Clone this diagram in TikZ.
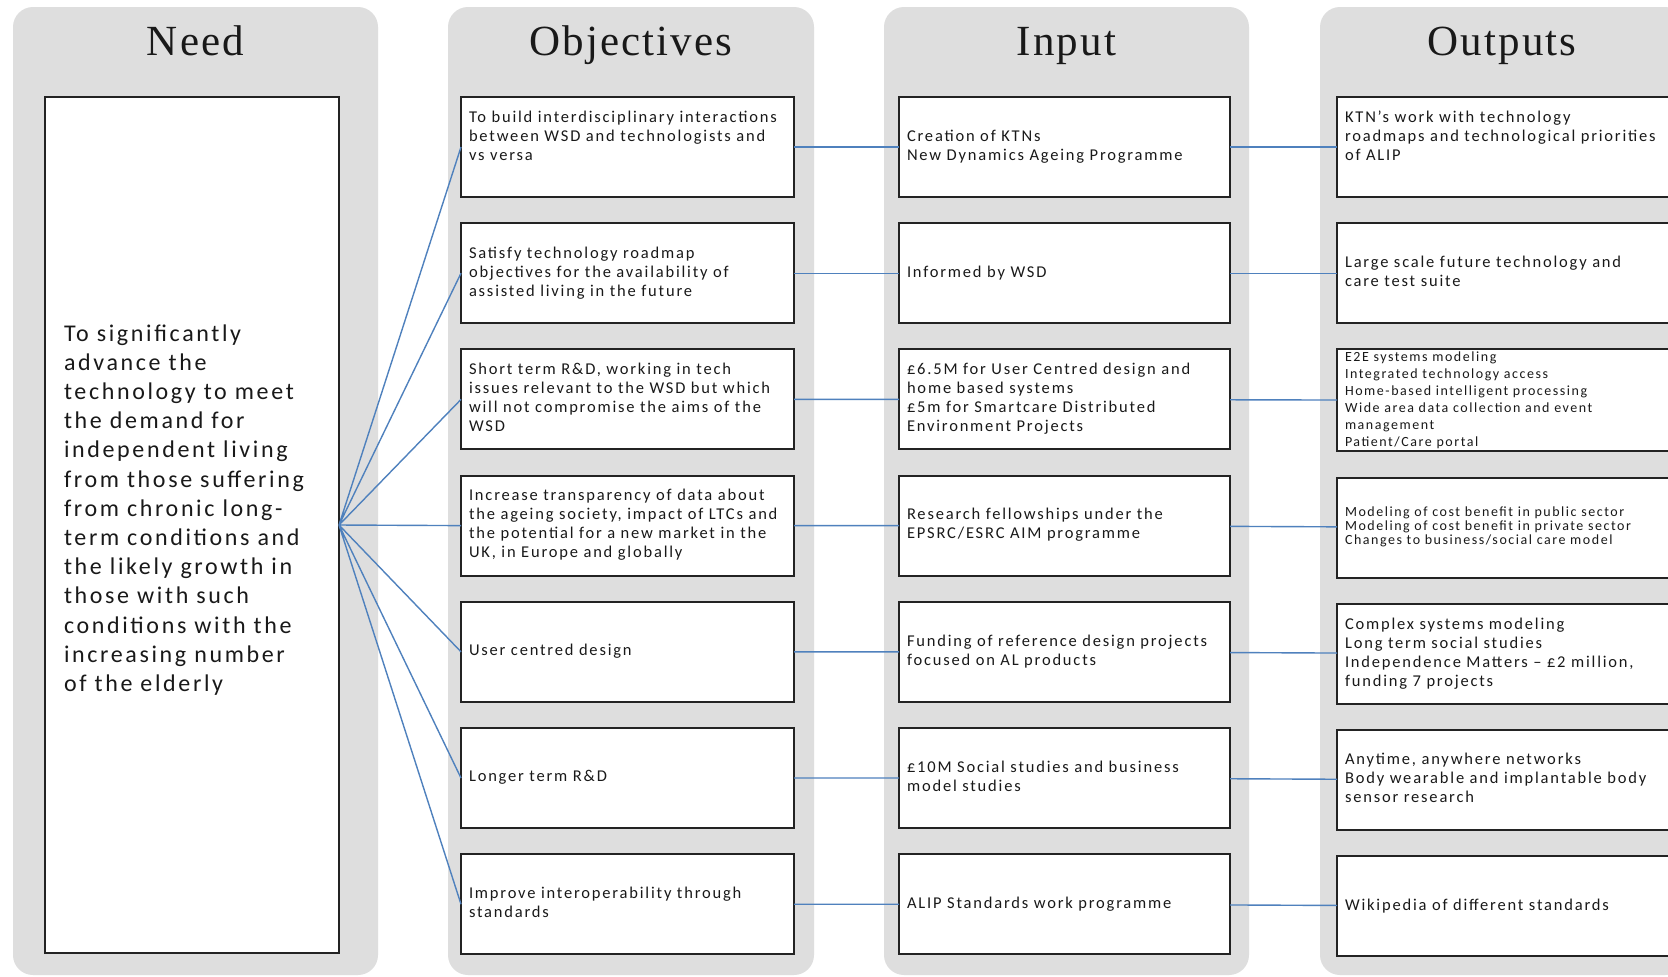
\documentclass[tikz,border=0pt]{standalone}
\usepackage{fontspec}
\usetikzlibrary{positioning}
\newfontfamily\headfont[LetterSpace=5]{Liberation Serif}
\newfontfamily\cardfont[LetterSpace=11]{Carlito}
\definecolor{panelgray}{RGB}{222,222,222}
\definecolor{linkblue}{RGB}{79,129,189}
\definecolor{boxline}{RGB}{35,35,35}
\newcommand{\boxlines}[1]{\begin{tabular}{@{}l@{}}#1\end{tabular}}
\tikzset{
  panel/.style={fill=panelgray, rounded corners=10pt},
  coltitle/.style={anchor=base, inner sep=0pt, text=black!90, font=\headfont\fontsize{21.5}{24}\selectfont},
  card/.style={draw=boxline, line width=1pt, fill=white, minimum height=50pt, inner xsep=4pt, inner ysep=0pt,
    outer sep=0pt, align=left, text=black!90, font=\cardfont\fontsize{8.25}{9.5}\selectfont},
  obbox/.style={card, text width=158.5pt},
  inbox/.style={card, text width=157.5pt},
  outbox/.style={card, text width=162pt},
  link/.style={draw=linkblue, line width=0.7pt},
}
\begin{document}
\begin{tikzpicture}[x=0.5pt, y=-0.5pt, node distance=13.1pt]
  \useasboundingbox (0,0) rectangle (1668,976);
  \fill[white] (0,0) rectangle (1668,976);
  \fill[panel] (13,7) rectangle (378,975);
  \fill[panel] (448,7) rectangle (814,975);
  \fill[panel] (884,7) rectangle (1249,975);
  \fill[panel] (1320,7) rectangle (1685,975);

  \node[coltitle] (tneed) at (195.5,55) {Need};
  \node[coltitle] (tobj) at (631,55) {Objectives};
  \node[coltitle] (tin) at (1066.5,55) {Input};
  \node[coltitle] (tout) at (1502,55) {Outputs};

  \node[card, anchor=north west, minimum width=147pt, minimum height=428pt, inner xsep=9.5pt, text width=128pt,
    font=\cardfont\fontsize{12}{14.6}\selectfont] (need) at (45,97)
    {\boxlines{To significantly\\ advance the\\ technology to meet\\ the demand for\\ independent living\\
      from those suffering\\ from chronic long-\\ term conditions and\\ the likely growth in\\ those with such\\
      conditions with the\\ increasing number\\ of the elderly\\ \mbox{}}};

  \node[obbox, anchor=north west] (ob1) at (461,97)
    {\boxlines{To build interdisciplinary interactions\\ between WSD and technologists and\\ vs versa\\ \mbox{}}};
  \node[obbox, below=of ob1] (ob2)
    {\boxlines{Satisfy technology roadmap\\ objectives for the availability of\\ assisted living in the future}};
  \node[obbox, below=of ob2] (ob3)
    {\boxlines{Short term R\&D, working in tech\\ issues relevant to the WSD but which\\ will not compromise the aims of the\\ WSD}};
  \node[obbox, below=of ob3] (ob4)
    {\boxlines{Increase transparency of data about\\ the ageing society, impact of LTCs and\\ the potential for a new market in the\\ UK, in Europe and globally}};
  \node[obbox, below=of ob4] (ob5) {\boxlines{User centred design}};
  \node[obbox, below=of ob5] (ob6) {\boxlines{Longer term R\&D}};
  \node[obbox, below=of ob6] (ob7) {\boxlines{Improve interoperability through\\ standards}};

  \node[inbox, right=52.5pt of ob1] (in1) {\boxlines{Creation of KTNs\\ New Dynamics Ageing Programme}};
  \node[inbox, below=of in1] (in2) {\boxlines{Informed by WSD}};
  \node[inbox, below=of in2] (in3)
    {\boxlines{£6.5M for User Centred design and\\ home based systems\\ £5m for Smartcare Distributed\\ Environment Projects}};
  \node[inbox, below=of in3] (in4) {\boxlines{Research fellowships under the\\ EPSRC/ESRC AIM programme}};
  \node[inbox, below=of in4] (in5) {\boxlines{Funding of reference design projects\\ focused on AL products}};
  \node[inbox, below=of in5] (in6) {\boxlines{£10M Social studies and business\\ model studies}};
  \node[inbox, below=of in6] (in7) {\boxlines{ALIP Standards work programme}};

  \node[outbox, right=53.5pt of in1] (out1)
    {\boxlines{KTN’s work with technology\\ roadmaps and technological priorities\\ of ALIP\\ \mbox{}}};
  \node[outbox, below=of out1] (out2) {\boxlines{Large scale future technology and\\ care test suite}};
  \node[outbox, below=of out2, font=\cardfont\fontsize{7}{8.5}\selectfont] (out3)
    {\boxlines{E2E systems modeling\\ Integrated technology access\\ Home-based intelligent processing\\
      Wide area data collection and event\\ management\\ Patient/Care portal}};
  \node[outbox, below=of out3, font=\cardfont\fontsize{7}{7.2}\selectfont] (out4)
    {\boxlines{Modeling of cost benefit in public sector\\ Modeling of cost benefit in private sector\\ Changes to business/social care model}};
  \node[outbox, below=of out4] (out5)
    {\boxlines{Complex systems modeling\\ Long term social studies\\ Independence Matters – £2 million,\\ funding 7 projects}};
  \node[outbox, below=of out5] (out6)
    {\boxlines{Anytime, anywhere networks\\ Body wearable and implantable body\\ sensor research}};
  \node[outbox, below=of out6] (out7) {\boxlines{Wikipedia of different standards}};

  \draw[link] (need.east) -- (ob1.west) (need.east) -- (ob2.west) (need.east) -- (ob3.west)
    (need.east) -- (ob4.west) (need.east) -- (ob5.west) (need.east) -- (ob6.west) (need.east) -- (ob7.west);
  \draw[link] (ob1) -- (in1) -- (out1);
  \draw[link] (ob2) -- (in2) -- (out2);
  \draw[link] (ob3) -- (in3) -- (out3);
  \draw[link] (ob4) -- (in4) -- (out4);
  \draw[link] (ob5) -- (in5) -- (out5);
  \draw[link] (ob6) -- (in6) -- (out6);
  \draw[link] (ob7) -- (in7) -- (out7);
\end{tikzpicture}
\end{document}
